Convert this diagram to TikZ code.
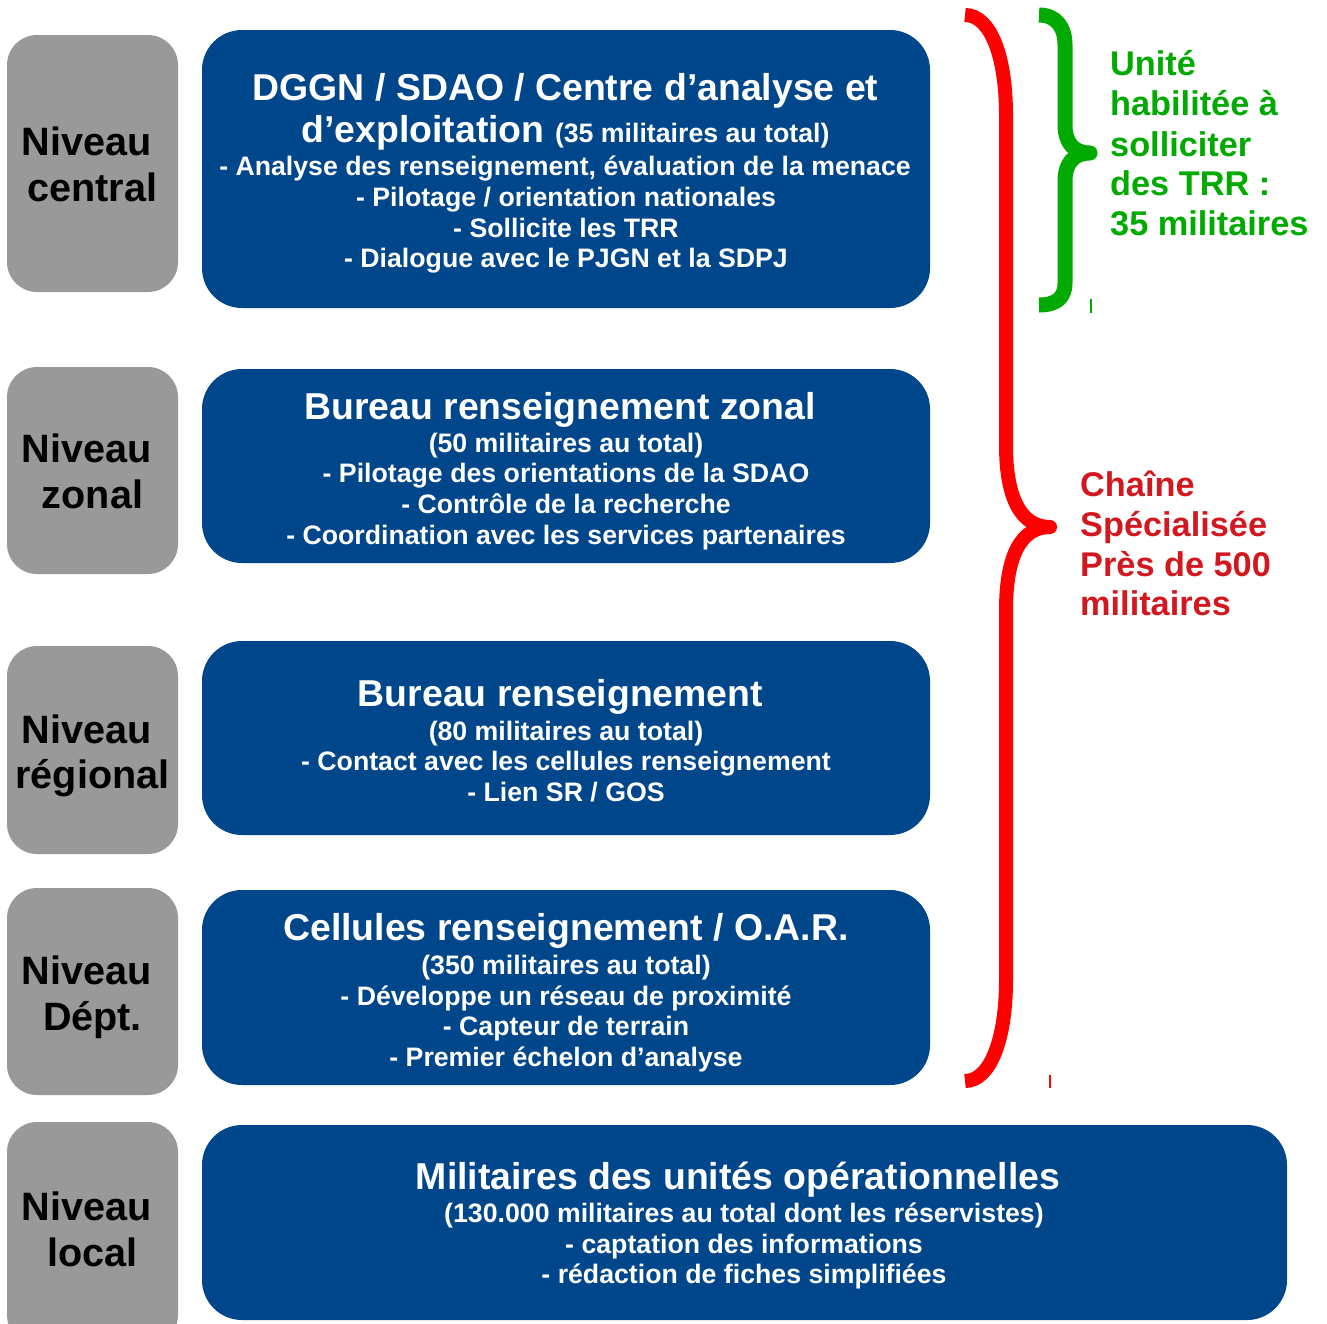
\documentclass[tikz,border=0pt]{standalone}
\usepackage{fontspec}
\setmainfont{Liberation Sans}
\definecolor{bbox}{RGB}{0,70,139}
\definecolor{gbox}{RGB}{153,153,153}
\definecolor{grn}{RGB}{0,170,0}
\definecolor{rtext}{RGB}{210,24,30}
\definecolor{rbr}{RGB}{255,0,0}
\begin{document}
\begin{tikzpicture}[x=1pt,y=-1pt,
  graybox/.style={fill=gbox,draw=none,rounded corners=30pt,inner sep=0,minimum width=171pt},
  bluebox/.style={fill=bbox,draw=none,rounded corners=40pt,inner sep=0},
  ttl/.style={text=white,font=\fontsize{37.4}{44}\selectfont\bfseries,anchor=base,inner sep=0},
  itm/.style={text=white,font=\fontsize{26.7}{31}\selectfont\bfseries,anchor=base,inner sep=0},
  lvl/.style={text=black,font=\fontsize{39.6}{46}\selectfont\bfseries,anchor=base,inner sep=0},
  gtxt/.style={text=grn,font=\fontsize{34.3}{40}\selectfont\bfseries,anchor=base west,inner sep=0},
  rtxt/.style={text=rtext,font=\fontsize{34.3}{40}\selectfont\bfseries,anchor=base west,inner sep=0},
  redbrace/.style={draw=rbr,line width=14pt,line join=round},
  greenbrace/.style={draw=grn,line width=15pt,line join=round}]
\useasboundingbox (0,0) rectangle (1327,1323);
\clip (0,0) rectangle (1327,1323);

% level boxes
\node[graybox,minimum height=257pt] (gcentral) at (92.5,163.5) {};
\node[graybox,minimum height=207pt] (gzonal) at (92.5,470.5) {};
\node[graybox,minimum height=208pt] (gregional) at (92.5,750) {};
\node[graybox,minimum height=207pt] (gdept) at (92.5,991.5) {};
\node[graybox,minimum height=223pt] (glocal) at (92.5,1233.5) {};

\node[lvl] (lc1) at (86.5,155) {Niveau};
\node[lvl] (lc2) at (92.5,201) {central};
\node[lvl] (lz1) at (86.5,462) {Niveau};
\node[lvl] (lz2) at (92.5,508) {zonal};
\node[lvl] (lr1) at (86.5,743) {Niveau};
\node[lvl] (lr2) at (92.5,788) {régional};
\node[lvl] (ld1) at (86.5,984) {Niveau};
\node[lvl] (ld2) at (92.5,1030) {Dépt.};
\node[lvl] (ll1) at (86.5,1220) {Niveau};
\node[lvl] (ll2) at (92.5,1266) {local};

% blue boxes
\node[bluebox,minimum width=728pt,minimum height=278pt] (b1) at (566,169) {};
\node[bluebox,minimum width=728pt,minimum height=194pt] (b2) at (566,466) {};
\node[bluebox,minimum width=728pt,minimum height=194pt] (b3) at (566,738) {};
\node[bluebox,minimum width=728pt,minimum height=195pt] (b4) at (566,987.5) {};
\node[bluebox,minimum width=1085pt,minimum height=195pt] (b5) at (744.5,1222.5) {};

% box 1
\node[ttl] (t1a) at (565.5,100.5) {DGGN / SDAO / Centre d’analyse et};
\node[ttl] (t1b) at (565.5,142.5) {d’exploitation {\fontsize{26.7}{31}\selectfont (35 militaires au total)}};
\node[itm] (i1a) at (565,175.5) {- Analyse des renseignement, évaluation de la menace};
\node[itm] (i1b) at (566,206.5) {- Pilotage / orientation nationales};
\node[itm] (i1c) at (566,237.5) {- Sollicite les TRR};
\node[itm] (i1d) at (566,267.5) {- Dialogue avec le PJGN et la SDPJ};

% box 2
\node[ttl] (t2) at (560,419) {Bureau renseignement zonal};
\node[itm] (i2a) at (566,452.5) {(50 militaires au total)};
\node[itm] (i2b) at (566,482.5) {- Pilotage des orientations de la SDAO};
\node[itm] (i2c) at (566,513.5) {- Contrôle de la recherche};
\node[itm] (i2d) at (566,544.5) {- Coordination avec les services partenaires};

% box 3
\node[ttl] (t3) at (560.5,706.5) {Bureau renseignement};
\node[itm] (i3a) at (566,740) {(80 militaires au total)};
\node[itm] (i3b) at (566,770.5) {- Contact avec les cellules renseignement};
\node[itm] (i3c) at (566,801) {- Lien SR / GOS};

% box 4
\node[ttl] (t4) at (566,940) {Cellules renseignement / O.A.R.};
\node[itm] (i4a) at (566,974) {(350 militaires au total)};
\node[itm] (i4b) at (566,1005) {- Développe un réseau de proximité};
\node[itm] (i4c) at (566,1035.5) {- Capteur de terrain};
\node[itm] (i4d) at (566,1066) {- Premier échelon d’analyse};

% box 5
\node[ttl] (t5) at (738,1189.5) {Militaires des unités opérationnelles};
\node[itm] (i5a) at (744,1222) {(130.000 militaires au total dont les réservistes)};
\node[itm] (i5b) at (744,1253) {- captation des informations};
\node[itm] (i5c) at (744,1283) {- rédaction de fiches simplifiées};

% braces
\draw[redbrace] (965,15) .. controls (990,15) and (1006,55) .. (1006,115) -- (1006,445)
  .. controls (1006,500) and (1022,527) .. (1050,527)
  .. controls (1022,527) and (1006,554) .. (1006,610) -- (1006,980)
  .. controls (1006,1040) and (990,1081) .. (965,1081);
\draw[greenbrace] (1039,15) .. controls (1056,15) and (1065,27) .. (1065,45) -- (1065,125)
  .. controls (1065,143) and (1074,153) .. (1090,153)
  .. controls (1074,153) and (1065,163) .. (1065,181) -- (1065,283)
  .. controls (1065,298) and (1056,305) .. (1039,305);
\draw[grn,line width=1.5pt] (1091,299) -- (1091,313);
\draw[rbr,line width=1.2pt] (1050,1075) -- (1050,1088);

% side texts
\node[gtxt] (g1) at (1110,75.5) {Unité};
\node[gtxt] (g2) at (1110,115.5) {habilitée à};
\node[gtxt] (g3) at (1110,156.5) {solliciter};
\node[gtxt] (g4) at (1110,195.5) {des TRR :};
\node[gtxt] (g5) at (1110,235.5) {35 militaires};

\node[rtxt] (r1) at (1080,496.5) {Chaîne};
\node[rtxt] (r2) at (1080,536.5) {Spécialisée};
\node[rtxt] (r3) at (1080,576.5) {Près de 500};
\node[rtxt] (r4) at (1080,615.5) {militaires};
\end{tikzpicture}
\end{document}
